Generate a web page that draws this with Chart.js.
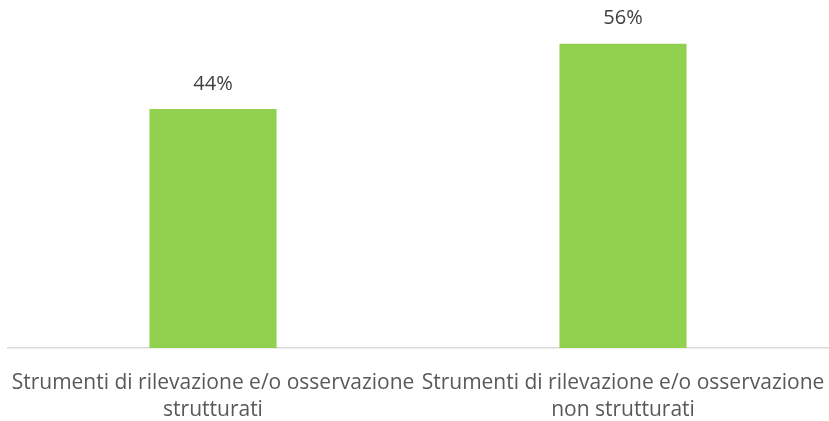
<!DOCTYPE html>
<html>
<head>
<meta charset="utf-8">
<script src="https://cdn.jsdelivr.net/npm/chart.js@4"></script>
<style>
  body { margin: 0; background: #ffffff; }
  #box { width: 829px; height: 421px; }
</style>
</head>
<body>
<div id="box"><canvas id="chart"></canvas></div>
<script>
// categories (two lines each) and values in percent
const categories = [
  ["Strumenti di rilevazione e/o osservazione", "strutturati"],
  ["Strumenti di rilevazione e/o osservazione", "non strutturati"]
];
const values = [44, 56];
const barColor = "#92D050";
const fontFamily = "'Open Sans', 'Noto Sans', sans-serif";

// draws the % value above each bar
const valueLabels = {
  id: "valueLabels",
  afterDatasetsDraw(chart) {
    const ctx = chart.ctx;
    const meta = chart.getDatasetMeta(0);
    ctx.save();
    ctx.fillStyle = "#404040";
    ctx.font = "20px " + fontFamily;
    ctx.textAlign = "center";
    ctx.textBaseline = "middle";
    meta.data.forEach((bar, i) => {
      ctx.fillText(values[i] + "%", bar.x, bar.y - 25);
    });
    ctx.restore();
  }
};

new Chart(document.getElementById("chart"), {
  type: "bar",
  plugins: [valueLabels],
  data: {
    labels: categories,
    datasets: [{
      data: values,
      backgroundColor: barColor,
      barPercentage: 0.31,
      categoryPercentage: 1
    }]
  },
  options: {
    responsive: true,
    maintainAspectRatio: false,
    animation: false,
    layout: { padding: { left: 8, right: 1, top: 22, bottom: 0 } },
    plugins: {
      legend: { display: false },
      tooltip: { enabled: false }
    },
    scales: {
      x: {
        grid: { display: false, drawTicks: false },
        border: { display: true, color: "#d9d9d9", width: 1.5 },
        afterFit(scale) {
          scale.height = 73;
          // labels may run to the edge, don't shrink the plot for them
          scale.paddingLeft = 0;
          scale.paddingRight = 0;
        },
        ticks: {
          color: "#595959",
          font: { size: 21, family: fontFamily, lineHeight: 1.3 },
          padding: 21,
          maxRotation: 0,
          autoSkip: false
        }
      },
      y: {
        display: false,
        min: 0,
        max: 60
      }
    }
  }
});
</script>
</body>
</html>
